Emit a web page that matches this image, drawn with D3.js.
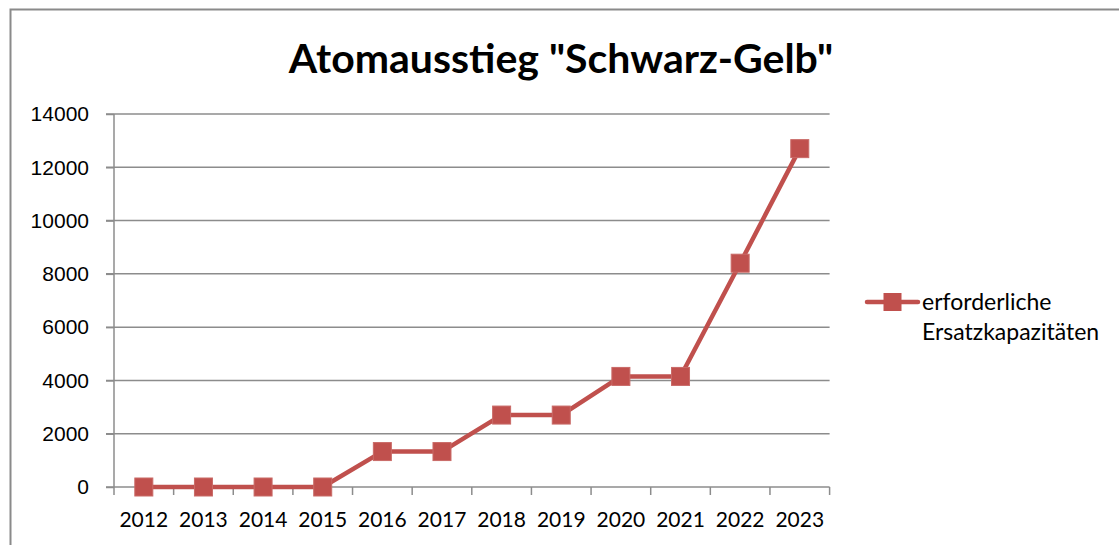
<!DOCTYPE html>
<html>
<head>
<meta charset="utf-8">
<script src="https://cdn.jsdelivr.net/npm/d3@7"></script>
<style>
  body { margin: 0; background: #fff; }
  svg { display: block; font-family: Lato, "Open Sans", sans-serif; }
  .grid line { stroke: #8c8c8c; stroke-width: 1.5; }
  .axis path, .axis line { stroke: #8c8c8c; stroke-width: 1.5; }
  .axis text { fill: #000; font-size: 21px; }
</style>
</head>
<body>
<svg id="chart"></svg>
<script>
// data
const years = ["2012", "2013", "2014", "2015", "2016", "2017", "2018", "2019", "2020", "2021", "2022", "2023"];
const capacity = [0, 0, 0, 0, 1330, 1330, 2700, 2700, 4150, 4150, 8400, 12700];
const yTicks = [0, 2000, 4000, 6000, 8000, 10000, 12000, 14000];
const seriesName = ["erforderliche", "Ersatzkapazitäten"];
const title = "Atomausstieg \"Schwarz-Gelb\"";

const W = 1119, H = 545;
let margin = {top: 114, right: 289.4, bottom: 58, left: 114},
    width = W - margin.left - margin.right,
    height = H - margin.top - margin.bottom;

const color = "#c0504d";

let svg = d3.select("#chart")
    .attr("width", W)
    .attr("height", H);

// outer chart frame (cut off at right and bottom)
svg.append("rect")
    .attr("x", 10.5).attr("y", 9.5)
    .attr("width", 1300).attr("height", 800)
    .attr("fill", "none")
    .attr("stroke", "#8a8a8a")
    .attr("stroke-width", 2);

svg.append("text")
    .attr("x", 561).attr("y", 73)
    .attr("text-anchor", "middle")
    .attr("font-weight", "bold")
    .attr("font-size", 41)
    .text(title);

let g = svg.append("g")
    .attr("transform", "translate(" + margin.left + "," + margin.top + ")");

let x = d3.scaleBand().domain(years).range([0, width]).padding(0);
let y = d3.scaleLinear().domain([0, 14000]).range([height, 0]);

// gridlines
g.append("g")
    .attr("class", "grid")
    .selectAll("line")
    .data(yTicks.filter(d => d > 0))
    .enter().append("line")
    .attr("x1", -8).attr("x2", width)
    .attr("y1", d => y(d)).attr("y2", d => y(d));

// y axis
let yAxis = g.append("g")
    .attr("class", "axis")
    .call(d3.axisLeft(y).tickValues(yTicks).tickFormat(d3.format("d"))
        .tickSize(8).tickSizeOuter(0).tickPadding(17));
yAxis.select(".domain").attr("d", "M0," + height + "V0");

// x axis with ticks at category boundaries
let xAxis = g.append("g")
    .attr("class", "axis")
    .attr("transform", "translate(0," + height + ")");
xAxis.append("line")
    .attr("x1", -8).attr("x2", width)
    .attr("y1", 0).attr("y2", 0);
xAxis.selectAll(".tk")
    .data(years.concat(["end"]))
    .enter().append("line")
    .attr("class", "tk")
    .attr("x1", (d, i) => i * x.bandwidth()).attr("x2", (d, i) => i * x.bandwidth())
    .attr("y1", 0).attr("y2", 8);
xAxis.selectAll("text")
    .data(years)
    .enter().append("text")
    .attr("x", d => x(d) + x.bandwidth() / 2)
    .attr("y", 40)
    .attr("text-anchor", "middle")
    .text(d => d);

// line
let valueline = d3.line()
    .x((d, i) => x(years[i]) + x.bandwidth() / 2)
    .y(d => y(d));

g.append("path")
    .datum(capacity)
    .attr("fill", "none")
    .attr("stroke", color)
    .attr("stroke-width", 4.5)
    .attr("stroke-linejoin", "round")
    .attr("d", valueline);

const ms = 18;
g.selectAll(".pt")
    .data(capacity)
    .enter().append("rect")
    .attr("class", "pt")
    .attr("x", (d, i) => x(years[i]) + x.bandwidth() / 2 - ms / 2)
    .attr("y", d => y(d) - ms / 2)
    .attr("width", ms).attr("height", ms)
    .attr("fill", color)
    .attr("stroke", "#c96a67")
    .attr("stroke-width", 1);

// legend
let lg = svg.append("g").attr("transform", "translate(867,302)");
lg.append("line")
    .attr("x1", 0).attr("x2", 51)
    .attr("stroke", color).attr("stroke-width", 4.5).attr("stroke-linecap", "round");
lg.append("rect")
    .attr("x", 25.5 - ms / 2).attr("y", -ms / 2)
    .attr("width", ms).attr("height", ms)
    .attr("fill", color);
lg.selectAll("text")
    .data(seriesName)
    .enter().append("text")
    .attr("x", 55)
    .attr("y", (d, i) => 8 + i * 30)
    .attr("font-size", 23)
    .text(d => d);
</script>
</body>
</html>
